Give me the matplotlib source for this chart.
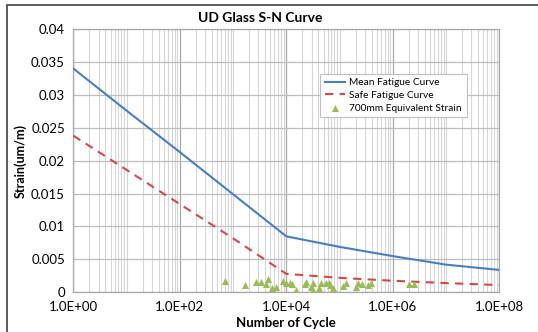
import matplotlib
matplotlib.use("Agg")
import matplotlib.pyplot as plt
import matplotlib.ticker as mticker
from matplotlib.patches import Rectangle
import numpy as np

# Data
mean_n = [1, 1e1, 1e2, 1e3, 1e4, 1e5, 1e6, 1e7, 1e8]
mean_strain = [0.034, 0.0276, 0.0213, 0.0149, 0.0085, 0.0069, 0.0055, 0.0042, 0.0034]
safe_n = [1, 1e1, 1e2, 1e3, 1e4, 1e5, 1e6, 1e7, 1e8]
safe_strain = [0.0238, 0.0186, 0.0134, 0.0082, 0.0028, 0.0022, 0.00175, 0.0014, 0.0011]
pts_n = [700, 1660, 2750, 3300, 4200, 4600, 5500, 6500, 8600, 10000, 11500, 13000,
         15000, 22000, 23700, 29500, 31600, 31600, 41000, 45000, 56000, 63000, 67000,
         75000, 115000, 133000, 200000, 220000, 266000, 340000, 390000, 2.0e6, 2.5e6]
pts_strain = [0.00172, 0.0011, 0.00157, 0.00162, 0.00122, 0.00197, 0.0006, 0.00086,
              0.00172, 0.00147, 0.00137, 0.00127, 0.00035, 0.00127, 0.00162, 0.00076,
              0.00137, 0.00035, 0.0006, 0.00137, 0.00147, 0.00147, 0.0011, 0.0006,
              0.001, 0.00147, 0.00086, 0.00137, 0.00122, 0.0011, 0.00137, 0.00122, 0.00122]
x_ticks = [1, 1e2, 1e4, 1e6, 1e8]
x_labels = ["1.0E+00", "1.0E+02", "1.0E+04", "1.0E+06", "1.0E+08"]
y_ticks = [0, 0.005, 0.01, 0.015, 0.02, 0.025, 0.03, 0.035, 0.04]
y_labels = ["0", "0.005", "0.01", "0.015", "0.02", "0.025", "0.03", "0.035", "0.04"]

plt.rcParams['font.family'] = ['Lato', 'DejaVu Sans']

fig = plt.figure(figsize=(5.38, 3.32), dpi=100)
fig.patches.append(Rectangle((7/538, -0.1), 1.2, (332-5)/332 + 0.1, transform=fig.transFigure,
                             fill=False, edgecolor='#404040', linewidth=1.2))
ax = fig.add_axes([73.3/538, 1-292.3/332, (499.3-73.3)/538, (292.3-29)/332])

ax.set_xscale('log')
ax.set_xlim(1, 1e8)
ax.set_ylim(0, 0.04)

ax.plot(mean_n, mean_strain, color='#4A7EC0', lw=1.5, label='Mean Fatigue Curve', zorder=3)
ax.plot(safe_n, safe_strain, color='#D04A4A', lw=1.5, ls=(0, (4, 3)), label='Safe Fatigue Curve', zorder=3)
ax.scatter(pts_n, pts_strain, marker='^', s=26, color='#9BBB59', label='700mm Equivalent Strain', zorder=4, linewidths=0)

ax.xaxis.set_major_locator(mticker.FixedLocator(x_ticks))
ax.xaxis.set_major_formatter(mticker.FixedFormatter(x_labels))
minor = [k * 10.0**d for d in range(0, 8) for k in range(1, 10) if not (k == 1 and d % 2 == 0)]
ax.xaxis.set_minor_locator(mticker.FixedLocator(minor))
ax.xaxis.set_minor_formatter(mticker.NullFormatter())
ax.yaxis.set_major_locator(mticker.FixedLocator(y_ticks))
ax.yaxis.set_major_formatter(mticker.FixedFormatter(y_labels))

ax.grid(which='major', axis='x', color='#A8A8A8', lw=0.9)
ax.grid(which='minor', axis='x', color='#D6D6D6', lw=0.8)
ax.grid(which='major', axis='y', color='#BDBDBD', lw=0.9)
ax.set_axisbelow(True)
for s in ax.spines.values():
    s.set_color('#A8A8A8')
    s.set_linewidth(0.9)
ax.tick_params(which='both', length=0, labelsize=9.5, colors='#000000', pad=6)

ax.set_title('UD Glass S-N Curve', fontsize=10, fontweight='bold', pad=5, x=0.44)
ax.set_xlabel('Number of Cycle', fontsize=9.5, fontweight='bold', labelpad=3)
ax.set_ylabel('Strain(um/m)', fontsize=9, fontweight='bold', labelpad=3)

leg = ax.legend(loc='upper right', bbox_to_anchor=(0.935, 0.85), fontsize=7.3, frameon=True,
                fancybox=False, edgecolor='#BFBFBF', framealpha=1, borderpad=0.45,
                handlelength=2.0, labelspacing=0.35, handletextpad=0.4)
leg.get_frame().set_linewidth(0.8)

fig.savefig('out.png', dpi=100)
